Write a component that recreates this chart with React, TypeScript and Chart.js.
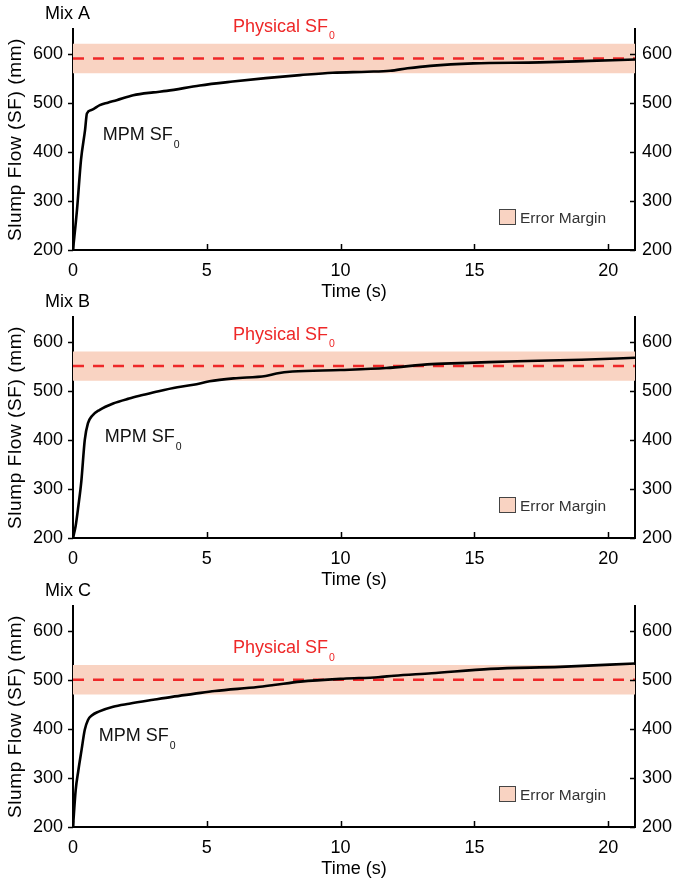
import React, { useEffect, useRef } from "react";
import { Chart, registerables } from "chart.js";

Chart.register(...registerables);

const FONT = "'Liberation Sans', Arial, Helvetica, sans-serif";

// Axis definition
const xTickValues = [0, 5, 10, 15, 20];
const yTickValues = [200, 300, 400, 500, 600];
const xMin = 0;
const xMax = 21;
const yMin = 200;
const yMax = 650;

// Panels
const mixNames = ["Mix A", "Mix B", "Mix C"];
const physicalSF0 = [590, 550, 500];
const errorMargin = [30, 30, 30];

// MPM SF0 curves (time s, slump flow mm)
const timeA = [0, 0.15, 0.3, 0.45, 0.52, 0.69, 1.0, 1.3, 1.63, 2.25, 3.0, 3.5, 4.74, 5.97, 7.2, 8.48, 9.7, 11.0, 11.85, 12.5, 13.35, 14.96, 17.45, 19.3, 21];
const sfA = [200, 282, 384, 444, 478, 485, 495, 500, 505, 515, 521, 524, 535, 543, 550, 556, 561, 563, 565, 570, 575, 580, 582, 585, 588];

const timeB = [0, 0.1, 0.2, 0.31, 0.44, 0.56, 0.7, 1.0, 1.5, 2.1, 2.6, 3.2, 3.9, 4.5, 5.1, 6.0, 7.2, 7.6, 8.2, 10.0, 11.7, 13.4, 15.0, 16.6, 19.0, 21];
const sfB = [200, 225, 265, 315, 400, 434, 448, 461, 474, 484, 491, 499, 507, 512, 519, 525, 530, 535, 539, 542, 546, 554, 557, 560, 563, 567];

const timeC = [0, 0.1, 0.2, 0.32, 0.44, 0.56, 0.7, 0.96, 1.5, 2.1, 3.0, 3.7, 4.5, 5.3, 6.9, 7.5, 8.5, 10.1, 11.4, 12.0, 13.4, 15.6, 18.2, 21];
const sfC = [200, 275, 315, 357, 398, 418, 427, 435, 445, 451, 459, 465, 471, 477, 485, 489, 496, 502, 505, 508, 513, 522, 526, 533];

const curveTimes = [timeA, timeB, timeC];
const curveSF = [sfA, sfB, sfC];

// Annotation anchors (data units)
const mpmLabelTime = [1.11, 1.19, 0.96];
const mpmLabelSF = [436, 408, 388];

const RED = "rgb(238,40,40)";
const BAND = "rgb(249,211,194)";

const PANEL_TOPS = [0, 288, 577];
const W = 675;
const H = 308;
const AREA_TOP = 29;
const AREA_H = 221;
const LEFT_W = 73;
const RIGHT_W = 40;

function drawSub(ctx: CanvasRenderingContext2D, main: string, sub: string, x: number, cy: number, color: string) {
  ctx.save();
  ctx.fillStyle = color;
  ctx.textAlign = "left";
  ctx.textBaseline = "alphabetic";
  ctx.font = `18px ${FONT}`;
  const base = cy + 6.4;
  ctx.fillText(main, x, base);
  const w = ctx.measureText(main).width;
  ctx.font = `10.5px ${FONT}`;
  ctx.fillText(sub, x + w + 1, base + 7.5);
  ctx.restore();
}

function Panel({ idx }: { idx: number }) {
  const ref = useRef<HTMLCanvasElement | null>(null);

  useEffect(() => {
    const canvas = ref.current;
    if (!canvas) return;
    const phys = physicalSF0[idx];
    const m = errorMargin[idx];
    const ts = curveTimes[idx];
    const vs = curveSF[idx];

    const overlay = {
      id: "overlay" + idx,
      afterDatasetsDraw(chart: any) {
        const ctx: CanvasRenderingContext2D = chart.ctx;
        const xs = chart.scales.x;
        const ys = chart.scales.y;
        const { left, right, top, bottom } = chart.chartArea;
        ctx.save();
        ctx.strokeStyle = "#000";
        ctx.lineWidth = 1.5;
        ctx.beginPath();
        for (const v of yTickValues) {
          const py = Math.round(ys.getPixelForValue(v)) + 0.5;
          ctx.moveTo(left - 5, py);
          ctx.lineTo(left, py);
          ctx.moveTo(right - 5, py);
          ctx.lineTo(right, py);
        }
        for (const v of xTickValues) {
          const px = Math.round(xs.getPixelForValue(v)) + 0.5;
          ctx.moveTo(px, bottom);
          ctx.lineTo(px, bottom - 6);
        }
        ctx.stroke();
        ctx.restore();
      },
      afterDraw(chart: any) {
        const ctx: CanvasRenderingContext2D = chart.ctx;
        const xs = chart.scales.x;
        const ys = chart.scales.y;
        const { left, right, top, bottom } = chart.chartArea;
        ctx.save();
        // panel name
        ctx.fillStyle = "#000";
        ctx.font = `18px ${FONT}`;
        ctx.textAlign = "left";
        ctx.textBaseline = "alphabetic";
        ctx.fillText(mixNames[idx], 45, 13 + 6.4);
        // x title
        ctx.textAlign = "center";
        ctx.fillText("Time (s)", (left + right) / 2, bottom + 41 + 6.4);
        // y title
        ctx.save();
        ctx.translate(16, (top + bottom) / 2);
        ctx.rotate(-Math.PI / 2);
        ctx.textAlign = "center";
        ctx.textBaseline = "middle";
        ctx.font = `19px ${FONT}`;
        try { (ctx as any).letterSpacing = "0.6px"; } catch (e) {}
        ctx.fillText("Slump Flow (SF) (mm)", 0, 0);
        ctx.restore();
        // Physical SF0 label
        drawSub(ctx, "Physical SF", "0", 233, ys.getPixelForValue(phys) - 33, RED);
        // MPM SF0 label
        drawSub(ctx, "MPM SF", "0", xs.getPixelForValue(mpmLabelTime[idx]), ys.getPixelForValue(mpmLabelSF[idx]), "#111");
        // legend
        const bx = 499;
        const by = top + 180;
        ctx.fillStyle = BAND;
        ctx.fillRect(bx, by, 16, 15);
        ctx.strokeStyle = "#444";
        ctx.lineWidth = 1;
        ctx.strokeRect(bx + 0.5, by + 0.5, 16, 15);
        ctx.fillStyle = "#333";
        ctx.font = `15.5px ${FONT}`;
        ctx.textAlign = "left";
        ctx.textBaseline = "alphabetic";
        ctx.fillText("Error Margin", 520, by + 8 + 5.5);
        ctx.restore();
      },
    };

    const tickFont = { family: FONT, size: 18 };
    const chart = new Chart(canvas, {
      type: "line",
      data: {
        datasets: [
          {
            label: "MPM SF0",
            data: ts.map((t, i) => ({ x: t, y: vs[i] })),
            borderColor: "#000",
            borderWidth: 2.6,
            pointRadius: 0,
            cubicInterpolationMode: "monotone",
            fill: false,
          },
          {
            label: "Physical SF0",
            data: [
              { x: xMin, y: phys },
              { x: xMax, y: phys },
            ],
            borderColor: RED,
            borderWidth: 2.5,
            borderDash: [11, 9],
            pointRadius: 0,
            fill: false,
          },
          {
            label: "Error Margin",
            data: [
              { x: xMin, y: phys + m },
              { x: xMax, y: phys + m },
            ],
            borderColor: "rgba(0,0,0,0)",
            borderWidth: 0,
            backgroundColor: BAND,
            pointRadius: 0,
            fill: { value: phys - m },
          },
        ],
      } as any,
      options: {
        responsive: false,
        animation: false,
        devicePixelRatio: 1,
        layout: { padding: { top: AREA_TOP, left: 0, right: 0, bottom: 0 } },
        plugins: { legend: { display: false }, tooltip: { enabled: false }, title: { display: false } },
        scales: {
          x: {
            type: "linear",
            position: "bottom",
            min: xMin,
            max: xMax,
            grid: { display: false, drawTicks: false },
            border: { display: true, color: "#000", width: 2 },
            ticks: { font: tickFont, color: "#000", padding: 10, maxRotation: 0, autoSkip: false },
            afterBuildTicks: (axis: any) => {
              axis.ticks = xTickValues.map((v) => ({ value: v }));
            },
            afterFit: (axis: any) => {
              axis.height = H - AREA_TOP - AREA_H;
            },
          },
          y: {
            type: "linear",
            position: "left",
            min: yMin,
            max: yMax,
            grid: { display: false, drawTicks: false },
            border: { display: true, color: "#000", width: 2 },
            ticks: { font: tickFont, color: "#000", padding: 10, autoSkip: false },
            afterBuildTicks: (axis: any) => {
              axis.ticks = yTickValues.map((v) => ({ value: v }));
            },
            afterFit: (axis: any) => {
              axis.width = LEFT_W;
            },
          },
          y2: {
            type: "linear",
            position: "right",
            min: yMin,
            max: yMax,
            grid: { display: false, drawTicks: false },
            border: { display: true, color: "#000", width: 2 },
            ticks: { font: tickFont, color: "#000", padding: 7, autoSkip: false },
            afterBuildTicks: (axis: any) => {
              axis.ticks = yTickValues.map((v) => ({ value: v }));
            },
            afterFit: (axis: any) => {
              axis.width = RIGHT_W;
            },
          },
        },
      } as any,
      plugins: [overlay],
    });
    return () => chart.destroy();
  }, [idx]);

  return (
    <canvas
      ref={ref}
      width={W}
      height={H}
      style={{ position: "absolute", left: 0, top: PANEL_TOPS[idx], width: W, height: H }}
    />
  );
}

export default function App() {
  return (
    <div
      style={{
        position: "absolute",
        left: 0,
        top: 0,
        width: W,
        height: 885,
        overflow: "hidden",
        background: "#fff",
      }}
    >
      {[0, 1, 2].map((i) => (
        <Panel key={i} idx={i} />
      ))}
    </div>
  );
}
